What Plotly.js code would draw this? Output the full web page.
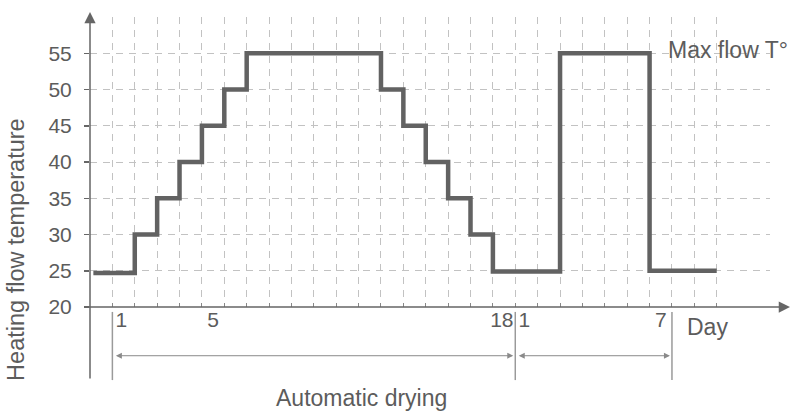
<!DOCTYPE html>
<html>
<head>
<meta charset="utf-8">
<script src="https://cdn.plot.ly/plotly-3.0.1.min.js"></script>
<style>html,body{margin:0;padding:0;background:#fff;}#chart{width:791px;height:417px;}</style>
</head>
<body>
<div id="chart"></div>
<script>
// Step profile: day index (grid cell boundary) where each level starts
const stepDays  = [0.15, 2, 3, 4, 5, 6, 7, 13, 14, 15, 16, 17, 18, 21, 25, 28];
const stepTemps = [24.7, 30, 35, 40, 45, 50, 55, 50, 45, 40, 35, 30, 24.9, 55, 25, 25];

const yTicks = [20, 25, 30, 35, 40, 45, 50, 55];
const xLabelPos = [1.4, 5.5, 18.4, 19.4, 25.5];
const xLabelText = ['1', '5', '18', '1', '7'];
const phaseBounds = [1, 19, 26];
const gridDays = [];
for (let d = 1; d <= 28; d++) gridDays.push(d);

const txt = '#5c5c5c';
const axisCol = '#666666';
const gridCol = '#c2c2c2';
const font = 'Liberation Sans, Arial, sans-serif';

const trace = {
  x: stepDays, y: stepTemps, type: 'scatter', mode: 'lines',
  line: {shape: 'hv', color: '#626262', width: 4.5},
  hoverinfo: 'skip'
};

const shapes = phaseBounds.map(d => ({
  type: 'line', xref: 'x', yref: 'paper', x0: d, x1: d, y0: -0.017, y1: -0.252,
  line: {color: '#9a9a9a', width: 1.5}
}));

const annotations = [
  // y axis with arrow
  {xref: 'paper', yref: 'paper', x: 0, y: 1.017, ax: 0, ay: 368, text: '', showarrow: true,
   arrowhead: 2, arrowsize: 1.5, arrowwidth: 1.5, arrowcolor: axisCol, standoff: 0},
  // x axis with arrow
  {xref: 'paper', yref: 'paper', x: 1.0294, y: 0, ax: -704, ay: 0, text: '', showarrow: true,
   arrowhead: 2, arrowsize: 1.5, arrowwidth: 1.5, arrowcolor: axisCol, standoff: 0},
  // dimension arrows
  {xref: 'x', yref: 'paper', x: phaseBounds[1], y: -0.168, axref: 'x', ax: phaseBounds[0], ay: 0,
   text: '', showarrow: true, arrowside: 'end+start', arrowhead: 2, startarrowhead: 2,
   arrowsize: 1.2, startarrowsize: 1.2, arrowwidth: 1, arrowcolor: '#8a8a8a', standoff: 2, startstandoff: 2},
  {xref: 'x', yref: 'paper', x: phaseBounds[2], y: -0.168, axref: 'x', ax: phaseBounds[1], ay: 0,
   text: '', showarrow: true, arrowside: 'end+start', arrowhead: 2, startarrowhead: 2,
   arrowsize: 1.2, startarrowsize: 1.2, arrowwidth: 1, arrowcolor: '#8a8a8a', standoff: 2, startstandoff: 2},
  // texts
  {xref: 'x', yref: 'y', x: 25, y: 55, xanchor: 'left', yanchor: 'middle', xshift: 16, yshift: 3,
   text: 'Max flow T°', showarrow: false, font: {family: font, size: 23, color: txt}},
  {xref: 'x', yref: 'paper', x: 26, y: -0.069, xanchor: 'left', yanchor: 'middle', xshift: 13,
   text: 'Day', showarrow: false, font: {family: font, size: 23, color: txt}},
  {xref: 'paper', yref: 'paper', x: 0.399, y: -0.314, xanchor: 'center', yanchor: 'middle',
   text: 'Automatic drying', showarrow: false, font: {family: font, size: 23, color: txt}},
  {xref: 'paper', yref: 'paper', x: -0.109, y: 0.2, xanchor: 'center', yanchor: 'middle', textangle: -90,
   text: 'Heating flow temperature', showarrow: false, font: {family: font, size: 23.5, color: txt}}
];

const layout = {
  width: 791, height: 417,
  margin: {l: 90, r: 21, t: 17, b: 110, pad: 0},
  paper_bgcolor: '#ffffff', plot_bgcolor: '#ffffff',
  showlegend: false,
  font: {family: font, color: txt},
  xaxis: {
    range: [0, 30.38], showline: false, zeroline: false, showgrid: false,
    tickmode: 'array', tickvals: xLabelPos, ticktext: xLabelText, ticks: '',
    tickfont: {family: font, size: 21, color: txt}, ticklabelstandoff: -2,
    minor: {tickmode: 'array', tickvals: gridDays, showgrid: true, gridcolor: gridCol,
            gridwidth: 1, griddash: '7px,6px', ticks: 'inside', ticklen: 4, tickcolor: '#888', tickwidth: 1},
    fixedrange: true
  },
  yaxis: {
    range: [20, 60], showline: false, zeroline: false,
    tickmode: 'array', tickvals: yTicks, ticks: 'outside', ticklen: 5, tickcolor: axisCol, tickwidth: 1.5,
    showgrid: true, gridcolor: gridCol, gridwidth: 1, griddash: '7px,6px',
    tickfont: {family: font, size: 21, color: txt}, ticklabelstandoff: 8,
    fixedrange: true
  },
  shapes: shapes,
  annotations: annotations
};

Plotly.newPlot('chart', [trace], layout, {displayModeBar: false, staticPlot: true});
</script>
</body>
</html>
